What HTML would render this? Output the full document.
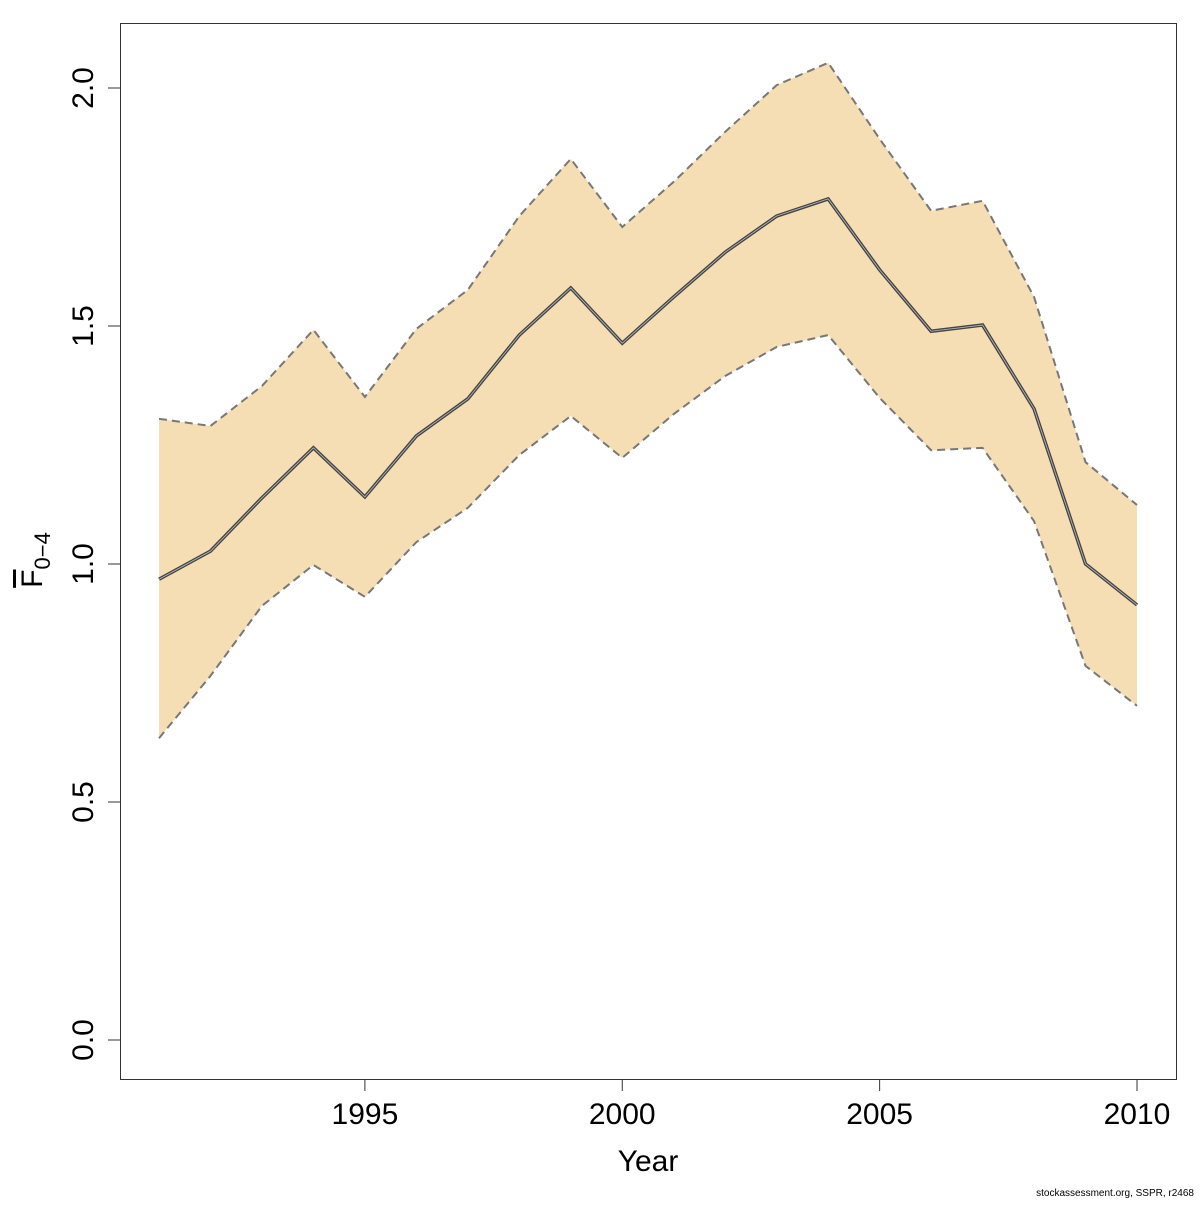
<!DOCTYPE html>
<html><head><meta charset="utf-8"><style>
body{margin:0;background:#fff}
svg text{font-family:"Liberation Sans","DejaVu Sans",sans-serif;fill:#000}
</style></head><body>
<svg id="chart" width="1200" height="1200" xmlns="http://www.w3.org/2000/svg">
<rect x="0" y="0" width="1200" height="1200" fill="#fff"/>
<g id="plot"></g>
<rect x="120.5" y="23.5" width="1056" height="1056" fill="none" stroke="#333" stroke-width="1"/>
<g id="axes"></g>
<text x="648" y="1171" font-size="30" text-anchor="middle">Year</text>
<text transform="translate(42,560) rotate(-90)" font-size="30" text-anchor="middle"><tspan text-decoration="overline">F</tspan><tspan font-size="22" dy="8">0−4</tspan></text>
<text x="1194" y="1196" font-size="10" text-anchor="end">stockassessment.org, SSPR, r2468</text>
</svg>
<script>
const years=[1991,1992,1993,1994,1995,1996,1997,1998,1999,2000,2001,2002,2003,2004,2005,2006,2007,2008,2009,2010];
const estimate=[0.968,1.027,1.139,1.244,1.141,1.269,1.347,1.481,1.580,1.464,1.561,1.655,1.731,1.767,1.618,1.489,1.502,1.326,1.000,0.914];
const upper=[1.305,1.290,1.374,1.492,1.351,1.494,1.576,1.731,1.851,1.708,1.803,1.908,2.006,2.053,1.893,1.742,1.763,1.561,1.214,1.124];
const lower=[0.634,0.765,0.912,0.998,0.931,1.046,1.118,1.229,1.311,1.223,1.315,1.395,1.456,1.481,1.349,1.239,1.244,1.090,0.786,0.702];
const xTicks=[1995,2000,2005,2010];
const yTicks=[0.0,0.5,1.0,1.5,2.0];
const yTickLabels=["0.0","0.5","1.0","1.5","2.0"];
const X=v=>159+(v-1991)*(1137-159)/19;
const Y=v=>1040-v*476;
const NS="http://www.w3.org/2000/svg";
const plot=document.getElementById('plot'),axes=document.getElementById('axes');
function mk(tag,attrs,parent){const e=document.createElementNS(NS,tag);for(const k in attrs)e.setAttribute(k,attrs[k]);parent.appendChild(e);return e;}
const up=years.map((y,i)=>X(y)+','+Y(upper[i]));
const lo=years.map((y,i)=>X(y)+','+Y(lower[i])).reverse();
const band=mk('polygon',{points:up.concat(lo).join(' '),fill:'#f5deb3',stroke:'none'},plot);


const ul=mk('polyline',{points:up.join(' '),fill:'none',stroke:'#777','stroke-width':2,'stroke-dasharray':'8,5'},plot);


const ll=mk('polyline',{points:years.map((y,i)=>X(y)+','+Y(lower[i])).join(' '),fill:'none',stroke:'#777','stroke-width':2,'stroke-dasharray':'8,5'},plot);


const el=mk('polyline',{points:years.map((y,i)=>X(y)+','+Y(estimate[i])).join(' '),fill:'none',stroke:'#444','stroke-width':3.5},plot);


mk('polyline',{points:years.map((y,i)=>X(y)+','+Y(estimate[i])).join(' '),fill:'none',stroke:'#bbb','stroke-width':0.8},plot);
xTicks.forEach(t=>{
 const l=mk('line',{x1:X(t),x2:X(t),y1:1079,y2:1091,stroke:'#333'},axes);
 
 
 const tx=mk('text',{x:X(t),y:1124,'font-size':30,'text-anchor':'middle'},axes);
 tx.textContent=t;
 
 
});
yTicks.forEach((t,i)=>{
 const l=mk('line',{x1:108,x2:120,y1:Y(t),y2:Y(t),stroke:'#333'},axes);
 
 
 const tx=mk('text',{transform:`translate(93,${Y(t)}) rotate(-90)`,'font-size':30,'text-anchor':'middle'},axes);
 tx.textContent=yTickLabels[i];
 
 
});
</script>
</body></html>
